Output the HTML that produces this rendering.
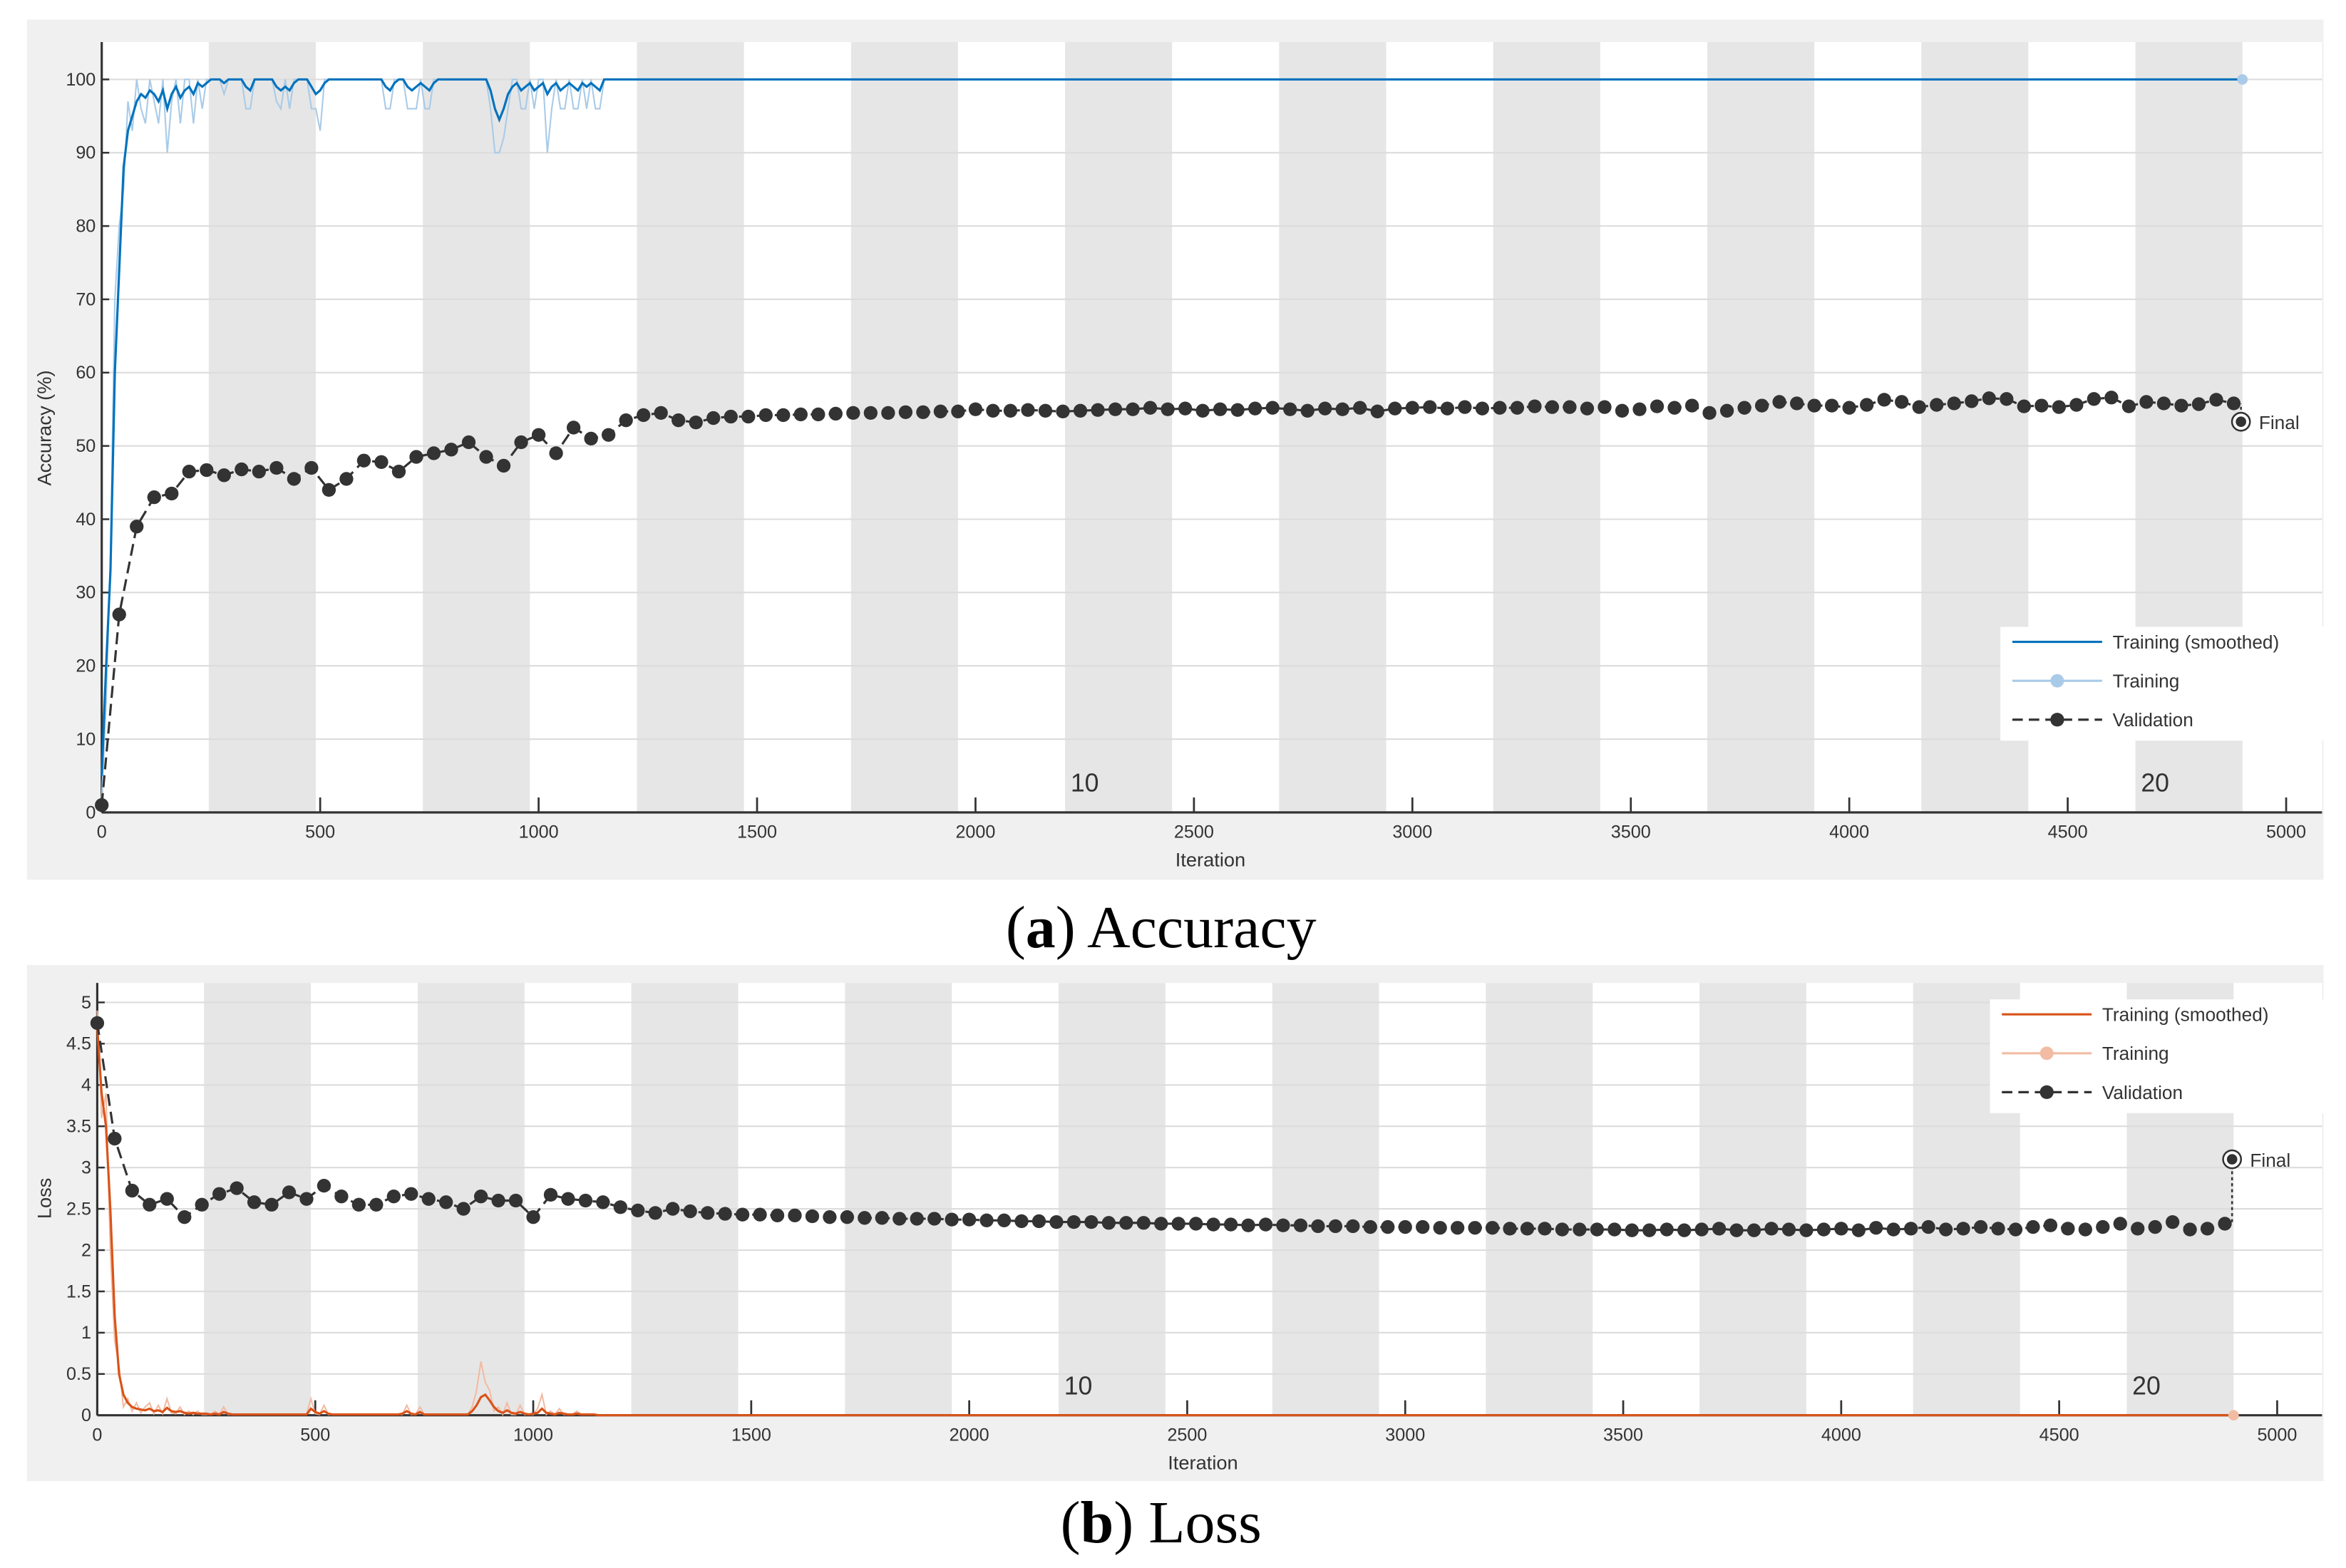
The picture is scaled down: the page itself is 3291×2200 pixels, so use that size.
<!DOCTYPE html>
<html><head><meta charset="utf-8"><style>
html,body{margin:0;padding:0;background:#fff;}
svg{display:block;}
text{font-family:"Liberation Sans",sans-serif;fill:#333;}
.cap{font-family:"Liberation Serif",serif;fill:#000;}
</style></head>
<body>
<svg id="fig" width="3291" height="2200" viewBox="0 0 1568 1048" xmlns="http://www.w3.org/2000/svg">
<g>
<rect x="18" y="13" width="1535" height="575" fill="#f0f0f0"/>
<g id="accPlot"></g>
<text x="809" y="579" font-size="13" text-anchor="middle">Iteration</text>
<text transform="translate(34,286) rotate(-90)" font-size="13" text-anchor="middle">Accuracy (%)</text>
</g>
<text class="cap" x="776" y="633" font-size="40" text-anchor="middle">(<tspan font-weight="bold">a</tspan>) Accuracy</text>
<g>
<rect x="18" y="645" width="1535" height="345" fill="#f0f0f0"/>
<g id="lossPlot"></g>
<text x="804" y="982" font-size="13" text-anchor="middle">Iteration</text>
<text transform="translate(34,801) rotate(-90)" font-size="13" text-anchor="middle">Loss</text>
</g>
<text class="cap" x="776" y="1031" font-size="40" text-anchor="middle">(<tspan font-weight="bold">b</tspan>) Loss</text>
</svg>
<script>
const accSmooth=[5,20,33,60,74,88,93,95,97,98,
97.5,98.5,98,97,98.5,96,98,99,97.5,98.5,
99,98,99.5,99,99.5,100,100,100,99.5,100,
100,100,100,99,98.5,100,100,100,100,100,
99,98.5,99,98.5,99.5,100,100,100,99,98,
98.5,99.5,100,100,100,100,100,100,100,100,
100,100,100,100,100,99,98.5,99.5,100,100,
99,98.5,99,99.5,99,98.5,99.5,100,100,100,
100,100,100,100,100,100,100,100,100,98.5,
96,94.5,96,98,99,99.5,98.5,99,99.5,98.5,
99,99.5,98,99,99.5,98.5,99,99.5,99,98.5,
99.5,99,99.5,99,98.5,100];
const accRaw=[2,15,35,70,80,85,97,93,100,96,
94,100,97,94,100,90,97,100,94,100,
100,94,100,96,100,100,100,100,98,100,
100,100,100,96,96,100,100,100,100,100,
97,96,100,96,100,100,100,100,96,96,
93,100,100,100,100,100,100,100,100,100,
100,100,100,100,100,96,96,100,100,100,
96,96,96,100,96,96,100,100,100,100,
100,100,100,100,100,100,100,100,100,96,
90,90,92,96,100,100,96,96,100,96,
100,100,90,96,100,96,96,100,96,96,
100,96,100,96,96,100];
const lossSmooth=[4.7,3.9,3.5,2.5,1.2,0.5,0.25,0.15,0.1,0.08,
0.07,0.06,0.08,0.05,0.06,0.04,0.09,0.05,0.04,0.05,
0.03,0.02,0.03,0.02,0.02,0.02,0.01,0.02,0.01,0.04,
0.02,0.01,0.01,0.01,0.01,0.01,0.01,0.01,0.01,0.01,
0.01,0.01,0.01,0.01,0.01,0.01,0.01,0.01,0.01,0.08,
0.04,0.02,0.05,0.02,0.01,0.01,0.01,0.01,0.01,0.01,
0.01,0.01,0.01,0.01,0.01,0.01,0.01,0.01,0.01,0.01,
0.02,0.05,0.02,0.01,0.04,0.01,0.01,0.01,0.01,0.01,
0.01,0.01,0.01,0.01,0.01,0.01,0.05,0.12,0.22,0.25,
0.18,0.1,0.05,0.03,0.06,0.03,0.02,0.04,0.02,0.01,
0.02,0.03,0.08,0.03,0.02,0.01,0.03,0.02,0.01,0.01,
0.02,0.01,0.01,0.01,0.01,0];
const lossRaw=[4.9,3.6,3.9,2.0,0.9,0.6,0.1,0.2,0.05,0.15,
0.03,0.1,0.15,0.02,0.12,0.02,0.2,0.03,0.02,0.1,
0.01,0.05,0.01,0.05,0.01,0.01,0.01,0.05,0.01,0.1,
0.01,0.01,0.01,0.01,0.01,0.01,0.01,0.01,0.01,0.01,
0.01,0.01,0.01,0.01,0.01,0.01,0.01,0.01,0.01,0.2,
0.02,0.01,0.12,0.01,0.01,0.01,0.01,0.01,0.01,0.01,
0.01,0.01,0.01,0.01,0.01,0.01,0.01,0.01,0.01,0.01,
0.01,0.12,0.01,0.01,0.1,0.01,0.01,0.01,0.01,0.01,
0.01,0.01,0.01,0.01,0.01,0.01,0.1,0.3,0.65,0.4,
0.3,0.05,0.1,0.01,0.15,0.01,0.01,0.12,0.01,0.01,
0.01,0.08,0.25,0.01,0.05,0.01,0.08,0.01,0.01,0.01,
0.05,0.01,0.01,0.01,0.01,0];
const trainStep=10;
const trainEndIter=4900;
const accTrainEnd=100;
const lossTrainEnd=0;
const valStep=40;
const accVal=[1,27,39,43,43.5,46.5,46.7,46,46.8,46.5,
47,45.5,47,44,45.5,48,47.8,46.5,48.5,49,
49.5,50.5,48.5,47.3,50.5,51.5,49,52.5,51,51.5,
53.5,54.2,54.5,53.5,53.2,53.8,54,54,54.2,54.2,
54.3,54.3,54.4,54.5,54.5,54.5,54.6,54.6,54.7,54.7,
55,54.8,54.8,54.9,54.8,54.7,54.8,54.9,55,55,
55.2,55,55.1,54.8,55,54.9,55.1,55.2,55,54.8,
55.1,55,55.2,54.7,55.1,55.2,55.3,55.1,55.3,55.1,
55.2,55.2,55.4,55.3,55.3,55.1,55.3,54.8,55,55.4,
55.2,55.5,54.5,54.8,55.2,55.5,56,55.8,55.5,55.5,
55.2,55.6,56.3,56,55.3,55.6,55.8,56.1,56.5,56.4,
55.4,55.5,55.3,55.6,56.4,56.6,55.4,56,55.8,55.5,
55.7,56.3,55.8];
const accFinal=53.3;
const lossVal=[4.75,3.35,2.72,2.55,2.62,2.4,2.55,2.68,2.75,2.58,
2.55,2.7,2.62,2.78,2.65,2.55,2.55,2.65,2.68,2.62,
2.58,2.5,2.65,2.6,2.6,2.4,2.67,2.62,2.6,2.58,
2.52,2.48,2.45,2.5,2.47,2.45,2.44,2.43,2.43,2.42,
2.42,2.41,2.4,2.4,2.39,2.39,2.38,2.38,2.38,2.37,
2.37,2.36,2.36,2.35,2.35,2.34,2.34,2.34,2.33,2.33,
2.33,2.32,2.32,2.32,2.31,2.31,2.3,2.31,2.3,2.3,
2.29,2.29,2.29,2.28,2.28,2.28,2.28,2.27,2.27,2.27,
2.27,2.26,2.26,2.26,2.25,2.25,2.25,2.25,2.24,2.24,
2.25,2.24,2.25,2.26,2.24,2.24,2.26,2.25,2.24,2.25,
2.26,2.24,2.27,2.25,2.26,2.28,2.25,2.26,2.28,2.26,
2.25,2.28,2.3,2.26,2.25,2.28,2.32,2.26,2.28,2.34,
2.25,2.26,2.32];
const lossFinal=3.1;
const accYTicks=[0,10,20,30,40,50,60,70,80,90,100];
const lossYTicks=[0,0.5,1,1.5,2,2.5,3,3.5,4,4.5,5];
const xTicks=[0,500,1000,1500,2000,2500,3000,3500,4000,4500,5000];
const epochLabels=[10,20];
const itersPerEpoch=245;

const NS="http://www.w3.org/2000/svg";
function mk(p,tag,attrs){const e=document.createElementNS(NS,tag);for(const k in attrs)e.setAttribute(k,attrs[k]);p.appendChild(e);return e;}

function drawPanel(g,cfg){
  const X=cfg.x, Y=cfg.y;
  const bg=mk(g,'rect',{x:cfg.left,y:cfg.top,width:cfg.right-cfg.left,height:cfg.bottom-cfg.top,fill:'#fff'});
  
  
  for(let e=1;e<20;e+=2){
    const r=mk(g,'rect',{x:X(e*itersPerEpoch),y:cfg.top,width:X((e+1)*itersPerEpoch)-X(e*itersPerEpoch),height:cfg.bottom-cfg.top,fill:'#e6e6e6'});
    
    
  }
  cfg.yTicks.forEach(v=>{
    const l=mk(g,'line',{x1:cfg.left,x2:cfg.right,y1:Y(v),y2:Y(v),stroke:'#dcdcdc','stroke-width':1});
    
    
    mk(g,'line',{x1:cfg.left,x2:cfg.left+5,y1:Y(v),y2:Y(v),stroke:'#333','stroke-width':1.2});
    const t=mk(g,'text',{x:cfg.left-4,y:Y(v)+4,'font-size':12,'text-anchor':'end'});
    t.textContent=v;
    
    
  });
  xTicks.forEach(v=>{
    mk(g,'line',{x1:X(v),x2:X(v),y1:cfg.bottom,y2:cfg.bottom-10,stroke:'#333','stroke-width':1.3});
    const t=mk(g,'text',{x:X(v),y:cfg.bottom+17,'font-size':12,'text-anchor':'middle'});
    t.textContent=v;
    
    
  });
  epochLabels.forEach(ep=>{
    const t=mk(g,'text',{x:X((ep-1)*itersPerEpoch+45),y:cfg.bottom-14,'font-size':17,'text-anchor':'middle',fill:'#555'});
    t.textContent=ep;
    
    
  });
  mk(g,'line',{x1:cfg.left,x2:cfg.left,y1:cfg.top,y2:cfg.bottom,stroke:'#333','stroke-width':1.5});
  mk(g,'line',{x1:cfg.left,x2:cfg.right,y1:cfg.bottom,y2:cfg.bottom,stroke:'#333','stroke-width':1.5});
  let d='';
  cfg.raw.forEach((v,i)=>{d+=(i?'L':'M')+X(i*trainStep).toFixed(2)+','+Y(v).toFixed(2);});
  d+='L'+X(trainEndIter)+','+Y(cfg.trainEnd);
  const pr=mk(g,'path',{d:d,fill:'none',stroke:cfg.rawColor,'stroke-width':1});
  
  
  d='';
  cfg.smooth.forEach((v,i)=>{d+=(i?'L':'M')+X(i*trainStep).toFixed(2)+','+Y(v).toFixed(2);});
  d+='L'+X(trainEndIter)+','+Y(cfg.trainEnd);
  const ps=mk(g,'path',{d:d,fill:'none',stroke:cfg.color,'stroke-width':1.5});
  
  
  const ed=mk(g,'circle',{cx:X(trainEndIter),cy:Y(cfg.trainEnd),r:3.5,fill:cfg.rawColor});
  
  
  d='';
  cfg.val.forEach((v,i)=>{d+=(i?'L':'M')+X(Math.min(i*valStep,trainEndIter)).toFixed(2)+','+Y(v).toFixed(2);});
  const pv=mk(g,'path',{d:d,fill:'none',stroke:'#333','stroke-width':1.5,'stroke-dasharray':'8,4'});
  
  
  cfg.val.forEach((v,i)=>{
    const c=mk(g,'circle',{cx:X(Math.min(i*valStep,trainEndIter)),cy:Y(v),r:4.6,fill:'#333'});
    
    
  });
  const fx=X(trainEndIter)-1, lastV=cfg.val[cfg.val.length-1];
  mk(g,'line',{x1:fx,x2:fx,y1:Y(cfg.final),y2:Y(lastV),stroke:'#333','stroke-width':1.2,'stroke-dasharray':'2,2'});
  const f1=mk(g,'circle',{cx:fx,cy:Y(cfg.final),r:6,fill:'#fff',stroke:'#333','stroke-width':1.2});
  
  
  mk(g,'circle',{cx:fx,cy:Y(cfg.final),r:3.5,fill:'#333'});
  const ft=mk(g,'text',{x:fx+12,y:Y(cfg.final)+5,'font-size':12.5});
  ft.textContent='Final';
  
  
  const L=cfg.legend;
  const lg=mk(g,'g',{});
  
  
  mk(lg,'rect',{x:L.x,y:L.y,width:L.w,height:76,fill:'#fff'});
  const names=['Training (smoothed)','Training','Validation'];
  names.forEach((n,k)=>{
    const yy=L.y+10+k*26, x1=L.x+8, x2=L.x+68;
    if(k===0) mk(lg,'line',{x1:x1,x2:x2,y1:yy,y2:yy,stroke:cfg.color,'stroke-width':1.5});
    if(k===1){mk(lg,'line',{x1:x1,x2:x2,y1:yy,y2:yy,stroke:cfg.rawColor,'stroke-width':1.5});mk(lg,'circle',{cx:(x1+x2)/2,cy:yy,r:4.5,fill:cfg.rawColor});}
    if(k===2){mk(lg,'line',{x1:x1,x2:x2,y1:yy,y2:yy,stroke:'#333','stroke-width':1.5,'stroke-dasharray':'7,4'});mk(lg,'circle',{cx:(x1+x2)/2,cy:yy,r:4.6,fill:'#333'});}
    const t=mk(lg,'text',{x:L.x+75,y:yy+4.5,'font-size':12.5});
    t.textContent=n;
    
    
  });
}
drawPanel(document.getElementById('accPlot'),{
  left:68,right:1552,top:28,bottom:543,
  x:v=>68+v*0.292, y:v=>543-v*4.9,
  yTicks:accYTicks, raw:accRaw, smooth:accSmooth, trainEnd:accTrainEnd,
  val:accVal, final:accFinal, color:'#0072BD', rawColor:'#a9cbe8',
  legend:{x:1337,y:419,w:216}
});
drawPanel(document.getElementById('lossPlot'),{
  left:65,right:1552,top:657,bottom:946,
  x:v=>65+v*0.2914, y:v=>946-v*55.2,
  yTicks:lossYTicks, raw:lossRaw, smooth:lossSmooth, trainEnd:lossTrainEnd,
  val:lossVal, final:lossFinal, color:'#D95319', rawColor:'#f2bba3',
  legend:{x:1330,y:668,w:223}
});
</script>
</body></html>
